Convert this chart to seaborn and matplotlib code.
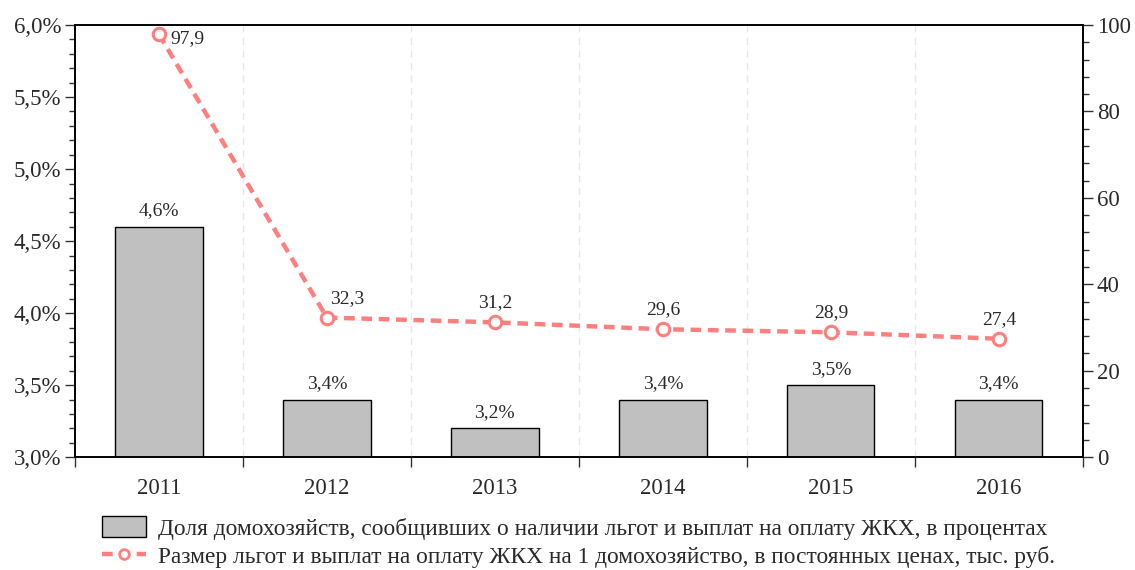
import numpy as np
import pandas as pd
import matplotlib
matplotlib.use("Agg")
import matplotlib.pyplot as plt
import seaborn as sns
from matplotlib.ticker import MultipleLocator, FuncFormatter, FixedLocator
from matplotlib.patches import Patch
from matplotlib.lines import Line2D

years = ["2011", "2012", "2013", "2014", "2015", "2016"]
share_pct = [4.6, 3.4, 3.2, 3.4, 3.5, 3.4]
benefit_size = [97.9, 32.3, 31.2, 29.6, 28.9, 27.4]
bar_label = "Доля домохозяйств, сообщивших о наличии льгот и выплат на оплату ЖКХ, в процентах"
line_label = "Размер льгот и выплат на оплату ЖКХ на 1 домохозяйство, в постоянных ценах, тыс. руб."

sns.set_theme(style="white")
plt.rcParams['font.family'] = ['Liberation Serif', 'DejaVu Serif']

bar_color = "#c0c0c0"
line_color = "#ff7f7f"
text_color = "#2a2a2a"

fig = plt.figure(figsize=(11.35, 5.7), dpi=100)
ax = fig.add_axes([0.066, 0.198, 0.888, 0.758])

df = pd.DataFrame({"year": years, "share": share_pct, "size": benefit_size})
sns.barplot(data=df, x="year", y="share", ax=ax, color=bar_color, width=0.52,
            edgecolor="black", linewidth=1.0, saturation=1)
for p in ax.patches:
    p.set_facecolor(bar_color)

ax.set_ylim(3.0, 6.0)
ax.set_xlim(-0.5, len(years) - 0.5)
ax.yaxis.set_major_locator(MultipleLocator(0.5))
ax.yaxis.set_minor_locator(MultipleLocator(0.1))
ax.yaxis.set_major_formatter(FuncFormatter(lambda v, _: f"{v:.1f}%".replace(".", ",")))
ax.set_xlabel("")
ax.set_ylabel("")

pos = np.arange(len(years))
bounds = np.arange(len(years) + 1) - 0.5
ax.xaxis.set_major_locator(FixedLocator(bounds))
ax.xaxis.set_major_formatter(FuncFormatter(lambda v, _: ""))
ax.xaxis.set_minor_locator(FixedLocator(pos))
ax.set_xticklabels(years, minor=True)
ax.tick_params(axis="x", which="major", length=7, width=1, color="#333333", bottom=True)
ax.tick_params(axis="x", which="minor", length=0, labelsize=16.5, pad=15, colors=text_color)
ax.tick_params(axis="y", which="major", length=7, width=1, color="#333333", left=True,
               labelsize=16.5, labelcolor=text_color, pad=3)
ax.tick_params(axis="y", which="minor", length=4, width=1, color="#333333", left=True)
ax.grid(axis="x", which="major", color="#e6e6e6", linestyle=(0, (5, 4)), linewidth=1)
ax.grid(axis="y", visible=False)
for s in ax.spines.values():
    s.set_color("black")
    s.set_linewidth(1.2)

for i, v in enumerate(share_pct):
    ax.text(i, v + 0.05, f"{v:.1f}%".replace(".", ","), ha="center", va="bottom",
            fontsize=14, color=text_color)

ax2 = ax.twinx()
sns.lineplot(x=pos, y=benefit_size, ax=ax2, color=line_color, linewidth=3.2,
             linestyle=(0, (2.4, 1.5)), marker="o", markersize=9,
             markerfacecolor="white", markeredgecolor=line_color, markeredgewidth=2.2)
ax2.set_ylim(0, 100)
ax2.yaxis.set_major_locator(MultipleLocator(20))
ax2.yaxis.set_minor_locator(MultipleLocator(4))
ax2.tick_params(axis="y", which="major", length=7, width=1, color="#333333", right=True,
                labelsize=16.5, labelcolor=text_color, pad=3)
ax2.tick_params(axis="y", which="minor", length=4, width=1, color="#333333", right=True)
ax2.grid(False)
for s in ax2.spines.values():
    s.set_color("black")
    s.set_linewidth(1.2)
ax2.set_xlim(-0.5, len(years) - 0.5)

for i, v in enumerate(benefit_size):
    txt = f"{v:.1f}".replace(".", ",")
    if i == 0:
        ax2.text(i + 0.07, v - 1, txt, ha="left", va="center", fontsize=14, color=text_color)
    elif i == 1:
        ax2.text(i + 0.12, v + 2.5, txt, ha="center", va="bottom", fontsize=14, color=text_color)
    else:
        ax2.text(i, v + 2.5, txt, ha="center", va="bottom", fontsize=14, color=text_color)

handles = [
    Patch(facecolor=bar_color, edgecolor="black", linewidth=1.0),
    Line2D([0], [0], color=line_color, linewidth=3.2, linestyle=(0, (2.4, 1.5)), marker="o",
           markersize=7, markerfacecolor="white", markeredgecolor=line_color, markeredgewidth=2),
]
leg = ax.legend(handles, [bar_label, line_label], loc="upper left",
                bbox_to_anchor=(0.027, -0.137), frameon=False, fontsize=16.8,
                handlelength=1.9, handleheight=1.0, labelspacing=0.22, handletextpad=0.5,
                borderaxespad=0, borderpad=0)
for t in leg.get_texts():
    t.set_color(text_color)

fig.savefig("out.png", dpi=100)
